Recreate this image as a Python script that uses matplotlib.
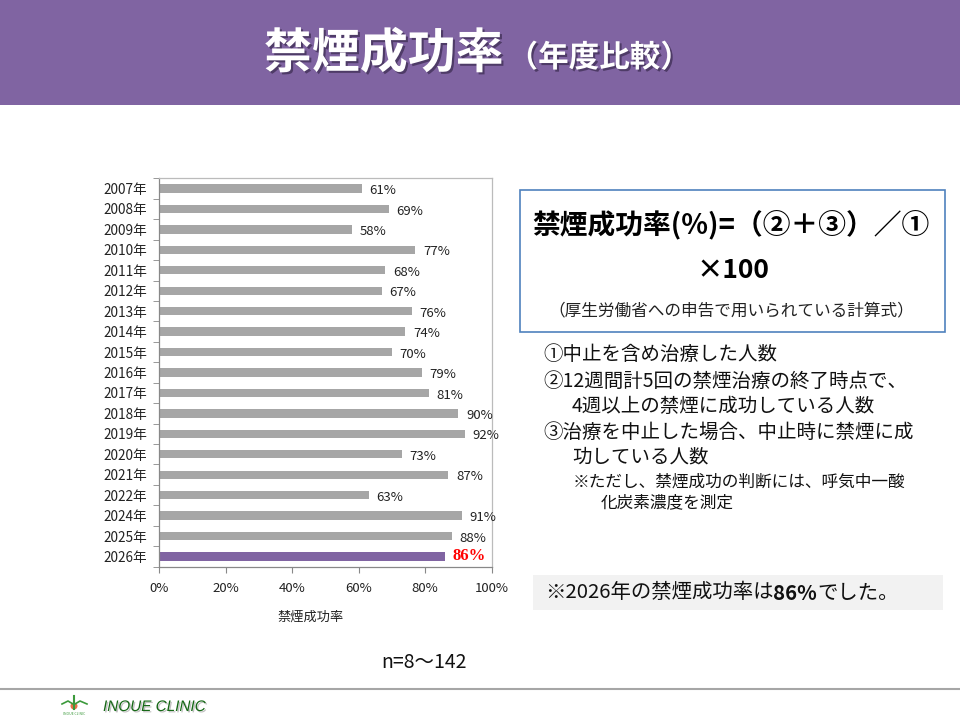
import matplotlib
matplotlib.use('Agg')
import matplotlib.pyplot as plt
import matplotlib.patheffects as pe
from matplotlib.patches import Rectangle, Circle
import numpy as np

plt.rcParams['font.family'] = ['Noto Sans CJK JP', 'DejaVu Sans']

# data
years = ['2007年', '2008年', '2009年', '2010年', '2011年', '2012年', '2013年',
         '2014年', '2015年', '2016年', '2017年', '2018年', '2019年', '2020年',
         '2021年', '2022年', '2024年', '2025年', '2026年']
rates = [61, 69, 58, 77, 68, 67, 76, 74, 70, 79, 81, 90, 92, 73, 87, 63, 91, 88, 86]
highlight = '2026年'
xticks = [0, 20, 40, 60, 80, 100]

title_main = '禁煙成功率'
title_sub = '（年度比較）'
formula = '禁煙成功率(%)=（②＋③）／①'
formula2 = '×100'
formula_note = '（厚生労働省への申告で用いられている計算式）'
notes = [
    (543, 355, '①中止を含め治療した人数', 14),
    (543, 381, '②12週間計5回の禁煙治療の終了時点で、', 14),
    (572, 406, '4週以上の禁煙に成功している人数', 14),
    (543, 432, '③治療を中止した場合、中止時に禁煙に成', 14),
    (572, 457, '功している人数', 14),
    (573, 482, '※ただし、禁煙成功の判断には、呼気中一酸', 12),
    (601, 503, '化炭素濃度を測定', 12),
]
summary = ['※2026年の禁煙成功率は', '86%', 'でした。']
n_text = 'n=8〜142'

purple = '#8064A2'
gray_bar = '#A6A6A6'

fig = plt.figure(figsize=(9.6, 7.2), dpi=100)

# page layer in pixel coordinates
bg = fig.add_axes([0, 0, 1, 1])
bg.set_xlim(0, 960)
bg.set_ylim(720, 0)
bg.axis('off')

bg.add_patch(Rectangle((0, 0), 960, 105, color=purple, lw=0))
shadow = [pe.withSimplePatchShadow(offset=(1.5, -1.5), shadow_rgbFace='#2e2040', alpha=0.6)]
t1 = bg.text(264, 68, title_main, color='white', fontsize=34.5, weight='bold',
             ha='left', va='baseline', path_effects=shadow)
bg.annotate(title_sub, xy=(1, 0), xycoords=t1, xytext=(3, 3), textcoords='offset points',
            color='white', fontsize=22, weight='bold', ha='left', va='bottom',
            path_effects=shadow)

# formula box
bg.add_patch(Rectangle((520, 190), 425, 142, fill=False, edgecolor='#4F81BD', lw=1.2))
bg.text(731, 225, formula, fontsize=20, weight='bold', ha='center', va='center')
bg.text(733, 270, formula2, fontsize=19, weight='bold', ha='center', va='center')
bg.text(731, 311, formula_note, fontsize=12, ha='center', va='center', color='#222')

for x, y, s, fs in notes:
    bg.text(x, y, s, fontsize=fs, ha='left', va='center', color='#111')

# summary box
bg.add_patch(Rectangle((533, 575), 410, 35, color='#F2F2F2', lw=0))
s1 = bg.text(545, 593, summary[0], fontsize=14.7, ha='left', va='center', color='#111')
s2 = bg.annotate(summary[1], xy=(1, 0), xycoords=s1, fontsize=14.7, weight='bold',
                 ha='left', va='bottom', color='#111')
bg.annotate(summary[2], xy=(1, 0), xycoords=s2, fontsize=14.7,
            ha='left', va='bottom', color='#111')

bg.text(424, 662, n_text, fontsize=14, ha='center', va='center', color='#111')

# footer
bg.plot([0, 960], [689, 689], color='#A6A6A6', lw=1.5)
bg.plot([74, 74], [696, 709], color='#3C9A3C', lw=1.5)
bg.plot([62, 68, 73], [704, 701, 704], color='#3C9A3C', lw=1.2)
bg.plot([75, 80, 87], [704, 701, 704], color='#3C9A3C', lw=1.2)
bg.add_patch(Circle((74, 706), 3.5, color='#E8734A', lw=0))
bg.text(74, 714, 'INOUE CLINIC', fontsize=2.5, ha='center', va='center', color='#3C9A3C')
bg.text(103, 707, 'INOUE CLINIC', color='#166816', style='italic', fontsize=11,
        family='Liberation Sans', ha='left', va='center',
        path_effects=[pe.withSimplePatchShadow(offset=(1, -1), shadow_rgbFace='#999', alpha=0.6)])

# bar chart
ax = fig.add_axes([159.3 / 960, 1 - 566.7 / 720, 332.4 / 960, 388.4 / 720])
ax.set_facecolor('none')
pos = np.arange(len(years))
colors = [purple if yr == highlight else gray_bar for yr in years]
ax.barh(pos, rates, height=0.41, color=colors, zorder=2)
ax.set_xlim(0, 100)
ax.set_ylim(len(years) - 0.5, -0.5)

for i, (yr, v) in enumerate(zip(years, rates)):
    if yr == highlight:
        ax.annotate(f'{v}%', xy=(v, i), xytext=(5, 0), textcoords='offset points',
                    ha='left', va='center', fontsize=12, color='#FF0000', weight='bold',
                    family='Liberation Serif')
    else:
        ax.annotate(f'{v}%', xy=(v, i), xytext=(5.5, -1.5), textcoords='offset points',
                    ha='left', va='center', fontsize=9.5, color='#222')

ax.set_yticks(pos)
ax.set_yticklabels(years, fontsize=9.8, color='#222')
ax.set_yticks(np.arange(-0.5, len(years)), minor=True)
ax.tick_params(axis='y', which='major', length=0, pad=9)
ax.tick_params(axis='y', which='minor', length=4, color='#888')

ax.set_xticks(xticks)
ax.set_xticklabels([f'{t}%' for t in xticks], fontsize=9.5, color='#222')
ax.tick_params(axis='x', length=4, color='#888', pad=7)

ax.set_xlabel('禁煙成功率', fontsize=9.5, color='#222')
ax.xaxis.set_label_coords(0.455, -0.13)
ax.xaxis.label.set_va('center')

ax.spines['left'].set_color('#888')
ax.spines['bottom'].set_color('#888')
ax.spines['top'].set_color('#BBB')
ax.spines['right'].set_color('#BBB')
for s in ax.spines.values():
    s.set_linewidth(0.9)

fig.savefig('out.png', dpi=100)
